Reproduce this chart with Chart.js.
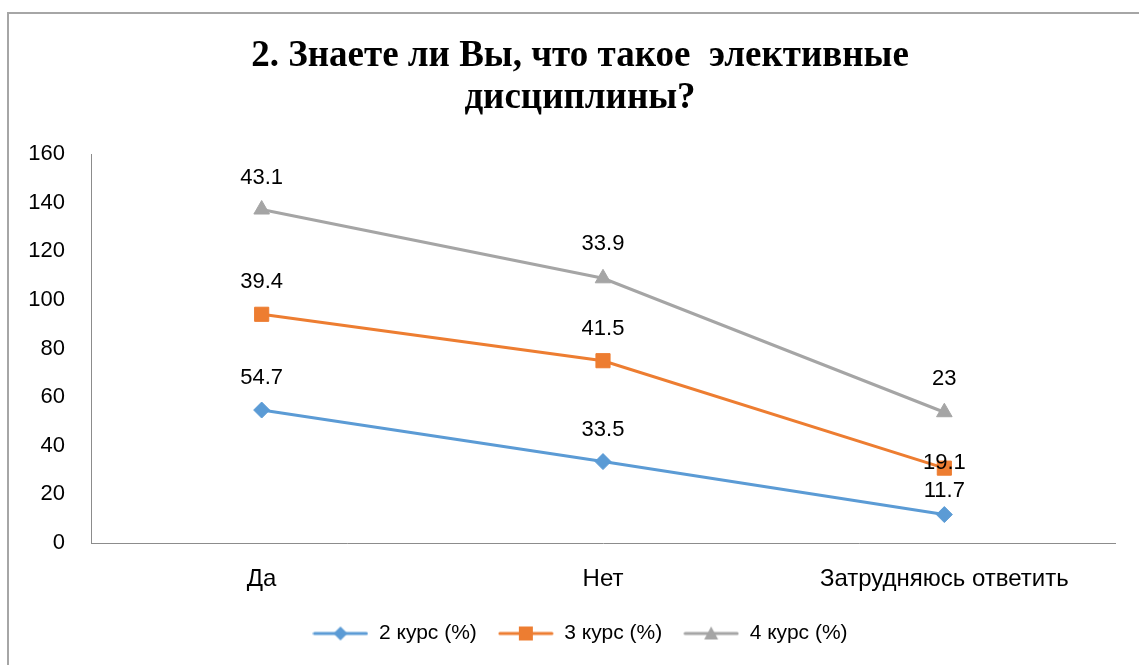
<!DOCTYPE html>
<html>
<head>
<meta charset="utf-8">
<script src="https://cdn.jsdelivr.net/npm/chart.js@4"></script>
<style>
  html, body { margin: 0; padding: 0; background: #fff; }
  #wrap { position: relative; width: 1139px; height: 665px; overflow: hidden; }
  #frame { position: absolute; left: 7px; top: 12px; width: 1200px; height: 700px;
           border-left: 2px solid #a6a6a6; border-top: 2px solid #a6a6a6; }
  canvas { position: absolute; left: 0; top: 0; }
</style>
</head>
<body>
<div id="wrap">
  <div id="frame"></div>
  <canvas id="myChart" width="1139" height="665"></canvas>
</div>
<script>
// answers and percentages per course (lines are stacked, labels show own value)
var categories = ['Да', 'Нет', 'Затрудняюсь ответить'];
var course2 = [54.7, 33.5, 11.7];
var course3 = [39.4, 41.5, 19.1];
var course4 = [43.1, 33.9, 23];
var seriesNames = ['2 курс (%)', '3 курс (%)', '4 курс (%)'];
var yTicks = { min: 0, max: 160, step: 20 };

var colors = ['#5B9BD5', '#ED7D31', '#A5A5A5'];
var markers = ['rectRot', 'rect', 'triangle'];
var markerSize = [8, 10, 9];
// how far above the point each label sits (Excel moved some to avoid overlap)
var labelLift = [[32, 32, 24], [32, 32, 5], [32, 34, 33]];

var font = "'Liberation Sans', Arial, sans-serif";

// little line-with-marker icons for the legend
function legendIcon(i) {
    var c = document.createElement('canvas');
    c.width = 56; c.height = 18;
    var g = c.getContext('2d');
    g.strokeStyle = colors[i];
    g.lineWidth = 3;
    g.lineCap = 'round';
    g.beginPath(); g.moveTo(2, 9); g.lineTo(54, 9); g.stroke();
    g.fillStyle = colors[i];
    g.beginPath();
    if (i == 0) { g.moveTo(28, 2); g.lineTo(35, 9); g.lineTo(28, 16); g.lineTo(21, 9); }
    else if (i == 1) { g.rect(21, 2, 14, 14); }
    else { g.moveTo(28, 2); g.lineTo(35, 15); g.lineTo(21, 15); }
    g.closePath(); g.fill();
    return c;
}

var pointLabels = {
    id: 'pointLabels',
    // Excel centres title and legend a bit right of the canvas middle
    afterLayout: function(chart) {
        if (chart.titleBlock) { chart.titleBlock.left = 45; }
        if (chart.legend) { chart.legend.left = 45; }
    },
    afterDatasetsDraw: function(chart) {
        var ctx = chart.ctx;
        ctx.save();
        ctx.font = '22px ' + font;
        ctx.fillStyle = '#000';
        ctx.textAlign = 'center';
        ctx.textBaseline = 'middle';
        chart.data.datasets.forEach(function(ds, i) {
            chart.getDatasetMeta(i).data.forEach(function(pt, j) {
                ctx.fillText(String(ds.data[j]), pt.x, pt.y - labelLift[i][j]);
            });
        });
        ctx.restore();
    }
};

var all = [course2, course3, course4];
var datasets = all.map(function(vals, i) {
    return {
        label: seriesNames[i],
        data: vals,
        borderColor: colors[i],
        backgroundColor: colors[i],
        borderWidth: 3,
        pointStyle: markers[i],
        pointRadius: markerSize[i],
        pointHoverRadius: markerSize[i],
        pointBorderWidth: 1,
        tension: 0,
        fill: false
    };
});

var ctx = document.getElementById('myChart').getContext('2d');
var myChart = new Chart(ctx, {
    type: 'line',
    data: { labels: categories, datasets: datasets },
    plugins: [pointLabels],
    options: {
        responsive: false,
        animation: false,
        layout: { padding: { left: 0, right: 24, top: 12, bottom: 11 } },
        plugins: {
            tooltip: { enabled: false },
            title: {
                display: true,
                text: ['2. Знаете ли Вы, что такое  элективные', 'дисциплины?'],
                color: '#000',
                font: { family: "'Liberation Serif', 'Times New Roman', serif", size: 37, weight: 'bold', lineHeight: 1.15 },
                padding: { top: 23, bottom: 34 }
            },
            legend: {
                position: 'bottom',
                labels: {
                    color: '#000',
                    font: { family: font, size: 21 },
                    usePointStyle: true,
                    pointStyleWidth: 56,
                    padding: 21,
                    generateLabels: function(chart) {
                        return chart.data.datasets.map(function(ds, i) {
                            return {
                                text: ds.label,
                                pointStyle: legendIcon(i),
                                fillStyle: colors[i],
                                strokeStyle: colors[i],
                                lineWidth: 0,
                                datasetIndex: i,
                                fontColor: '#000'
                            };
                        });
                    }
                }
            }
        },
        scales: {
            x: {
                offset: true,
                grid: { display: false, drawTicks: false },
                border: { color: '#8c8c8c', width: 1 },
                ticks: { color: '#000', font: { family: font, size: 24 }, padding: 22, maxRotation: 0 },
                afterFit: function(s) { s.height = 59; }
            },
            y: {
                stacked: true,
                min: yTicks.min,
                max: yTicks.max,
                grid: { display: false, drawTicks: false },
                border: { color: '#8c8c8c', width: 1 },
                ticks: { stepSize: yTicks.step, color: '#000', font: { family: font, size: 22 }, padding: 26 },
                afterFit: function(s) { s.width = 91; }
            }
        }
    }
});
</script>
</body>
</html>
